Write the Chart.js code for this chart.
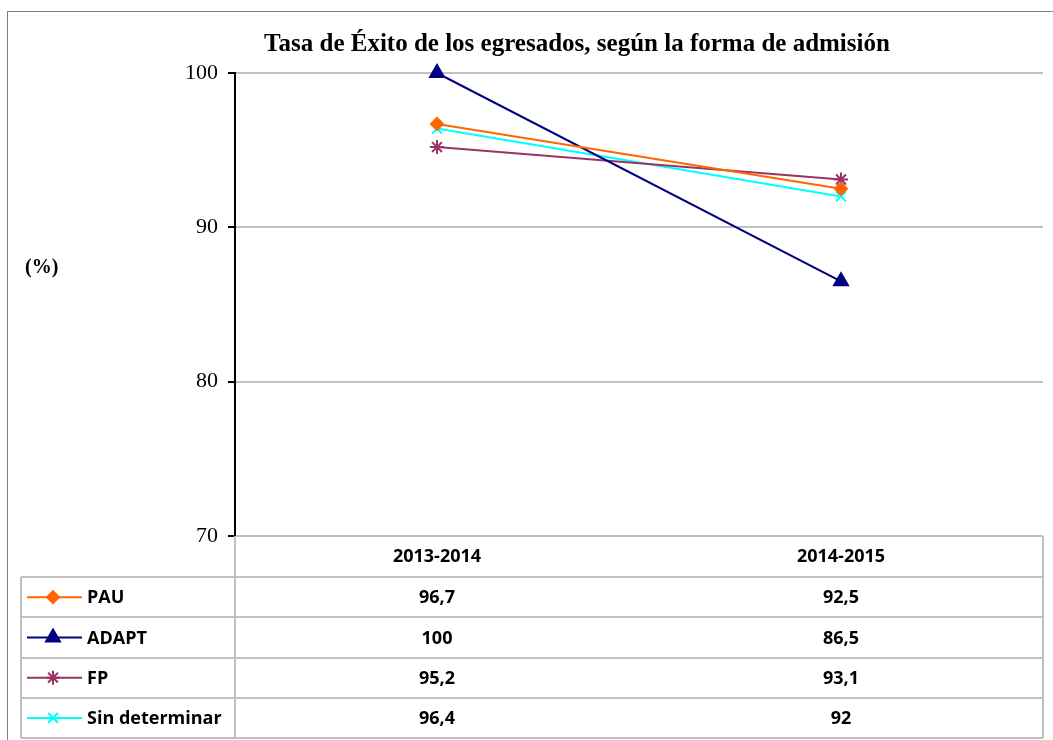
<!DOCTYPE html>
<html>
<head>
<meta charset="utf-8">
<script src="https://cdn.jsdelivr.net/npm/chart.js@4.4.1/dist/chart.umd.min.js"></script>
<style>
  html, body { margin: 0; padding: 0; background: #fff; }
  #wrap { width: 1053px; height: 740px; position: relative; }
</style>
</head>
<body>
<div id="wrap"><canvas id="myChart"></canvas></div>
<script>
const titulo = 'Tasa de Éxito de los egresados, según la forma de admisión'
const periodos = ['2013-2014', '2014-2015']
const series = ['PAU', 'ADAPT', 'FP', 'Sin determinar']
const valoresPAU = [96.7, 92.5]
const valoresADAPT = [100, 86.5]
const valoresFP = [95.2, 93.1]
const valoresSinDet = [96.4, 92]
const ticksY = [70, 80, 90, 100]

const colores = ['#ff6600', '#000080', '#993366', '#00ffff']
const marcas = ['rectRot', 'triangle', 'star', 'crossRot']
const radios = [6, 8, 7, 7]

function coma(v) {
    return String(v).replace('.', ',')
}

// marco, titulo, etiqueta del eje y tabla de datos
const tablaPlugin = {
    id: 'tabla',
    beforeDraw(chart) {
        const ctx = chart.ctx
        ctx.save()
        ctx.fillStyle = '#fff'
        ctx.fillRect(0, 0, chart.width, chart.height)
        ctx.strokeStyle = '#808080'
        ctx.lineWidth = 1
        ctx.strokeRect(7.5, 11.5, 1200, 900)
        ctx.restore()
    },
    afterDraw(chart) {
        const ctx = chart.ctx
        const area = chart.chartArea
        const xs = chart.scales.x
        ctx.save()

        ctx.fillStyle = '#000'
        ctx.font = 'bold 25px "Liberation Serif", "Times New Roman", serif'
        ctx.textAlign = 'center'
        ctx.textBaseline = 'middle'
        ctx.fillText(titulo, 577, 45)

        ctx.font = 'bold 20px "Liberation Serif", "Times New Roman", serif'
        ctx.textAlign = 'left'
        ctx.fillText('(%)', 25, 268)

        const left = 21
        const top = area.bottom
        const headH = 41
        const rowH = 40.25
        const right = area.right

        ctx.strokeStyle = '#c0c0c0'
        ctx.lineWidth = 2
        ctx.beginPath()
        for (let i = 0; i <= series.length; i++) {
            const y = Math.round(top + headH + i * rowH)
            ctx.moveTo(left, y)
            ctx.lineTo(right, y)
        }
        ctx.moveTo(left, top + headH)
        ctx.lineTo(left, top + headH + series.length * rowH)
        ctx.moveTo(right, top)
        ctx.lineTo(right, top + headH + series.length * rowH)
        ctx.moveTo(area.left, top)
        ctx.lineTo(area.left, top + headH + series.length * rowH)
        ctx.stroke()

        ctx.font = 'bold 18px "Open Sans", "Liberation Sans", sans-serif'
        ctx.fillStyle = '#000'
        ctx.textAlign = 'center'
        periodos.forEach((p, j) => {
            ctx.fillText(p, xs.getPixelForValue(j), top + headH / 2)
        })

        chart.data.datasets.forEach((ds, i) => {
            const cy = top + headH + i * rowH + rowH / 2
            ctx.strokeStyle = ds.borderColor
            ctx.fillStyle = ds.backgroundColor
            ctx.lineWidth = 2
            ctx.beginPath()
            ctx.moveTo(27, cy)
            ctx.lineTo(82, cy)
            ctx.stroke()
            Chart.helpers.drawPoint(ctx, {
                pointStyle: ds.pointStyle,
                radius: ds.pointRadius,
                rotation: 0,
                borderWidth: 2
            }, 53, cy)

            ctx.fillStyle = '#000'
            ctx.textAlign = 'left'
            ctx.fillText(ds.label, 87, cy + 1)
            ctx.textAlign = 'center'
            ds.data.forEach((v, j) => {
                ctx.fillText(coma(v), xs.getPixelForValue(j), cy + 1)
            })
        })
        ctx.restore()
    }
}

const valores = [valoresPAU, valoresADAPT, valoresFP, valoresSinDet]

new Chart(document.getElementById('myChart'), {
    type: 'line',
    data: {
        labels: periodos,
        datasets: series.map((s, i) => ({
            label: s,
            data: valores[i],
            borderColor: colores[i],
            backgroundColor: colores[i],
            borderWidth: 2,
            pointStyle: marcas[i],
            pointRadius: radios[i],
            pointBorderWidth: 2,
            pointHoverRadius: radios[i],
            tension: 0,
            fill: false,
            clip: false
        }))
    },
    options: {
        responsive: true,
        maintainAspectRatio: false,
        animation: false,
        layout: {
            padding: { top: 73, bottom: 204, left: 0, right: 10 }
        },
        plugins: {
            legend: { display: false },
            title: { display: false },
            tooltip: { enabled: false }
        },
        scales: {
            x: {
                type: 'category',
                offset: true,
                display: false
            },
            y: {
                min: 70,
                max: 100,
                afterFit(scale) {
                    scale.width = 235
                },
                afterBuildTicks(scale) {
                    scale.ticks = ticksY.map(v => ({ value: v }))
                },
                border: { color: '#000', width: 2 },
                grid: {
                    color: '#c0c0c0',
                    lineWidth: 2,
                    tickColor: '#000',
                    tickLength: 7,
                    drawTicks: true
                },
                ticks: {
                    color: '#000',
                    padding: 10,
                    font: { family: '"Liberation Serif", "Times New Roman", serif', size: 22 }
                }
            }
        }
    },
    plugins: [tablaPlugin]
})
</script>
</body>
</html>
